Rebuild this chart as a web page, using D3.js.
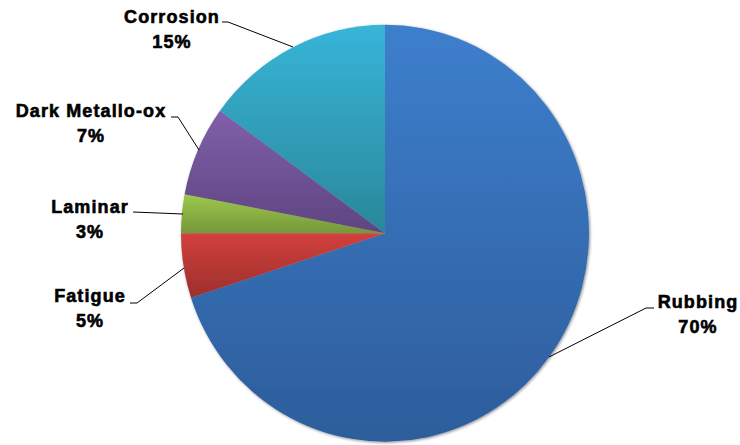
<!DOCTYPE html>
<html>
<head>
<meta charset="utf-8">
<script src="https://cdn.jsdelivr.net/npm/d3@7"></script>
<style>
  html, body { margin: 0; padding: 0; background: #fff; }
  svg { display: block; }
  text { font-family: "Liberation Sans", Arial, sans-serif; font-weight: bold; font-size: 18px; letter-spacing: 1.1px; fill: #000; stroke: #000; stroke-width: 0.6px; }
</style>
</head>
<body>
<svg id="chart" width="740" height="445"></svg>
<script>
const categories = ["Rubbing", "Fatigue", "Laminar", "Dark Metallo-ox", "Corrosion"];
const values = [70, 5, 3, 7, 15];
const topColors = ["#3d7fcd", "#d2403d", "#9ec84c", "#8060aa", "#37b5d9"];
const bottomColors = ["#2d5d9b", "#9c2f2c", "#74973a", "#5e4580", "#2a8799"];

// label anchor positions (text centre x, first line baseline y) and leader points
const labelPos = [
  { x: 698, y: 308, pts: [[654, 308], [646, 308], [549, 357]] },
  { x: 90, y: 302, pts: [[130, 303], [137, 303], [184, 268]] },
  { x: 90, y: 213, pts: [[133, 212], [183, 214]] },
  { x: 91, y: 117, pts: [[171, 117], [178, 117], [199, 150]] },
  { x: 172, y: 23, pts: [[222, 22], [228, 22], [293, 47]] }
];

const svg = d3.select("#chart");
const cx = 385, cy = 233.2, r = 204, yScale = 1.022;

const defs = svg.append("defs");
const filter = defs.append("filter").attr("id", "shadow")
  .attr("x", "-10%").attr("y", "-10%").attr("width", "120%").attr("height", "120%");
filter.append("feGaussianBlur").attr("in", "SourceAlpha").attr("stdDeviation", 1.6).attr("result", "blur");
filter.append("feOffset").attr("in", "blur").attr("dx", 0.5).attr("dy", 1).attr("result", "off");
filter.append("feComponentTransfer").attr("in", "off").attr("result", "soft")
  .append("feFuncA").attr("type", "linear").attr("slope", 0.45);
const merge = filter.append("feMerge");
merge.append("feMergeNode").attr("in", "soft");
merge.append("feMergeNode").attr("in", "SourceGraphic");

categories.forEach((c, i) => {
  const g = defs.append("linearGradient").attr("id", "grad" + i)
    .attr("x1", 0).attr("y1", 0).attr("x2", 0).attr("y2", 1);
  g.append("stop").attr("offset", "0%").attr("stop-color", topColors[i]);
  g.append("stop").attr("offset", "100%").attr("stop-color", bottomColors[i]);
});

const pie = d3.pie().sort(null).value(d => d)(values);
const arc = d3.arc().innerRadius(0).outerRadius(r);

const gPie = svg.append("g").attr("transform", `translate(${cx},${cy}) scale(1,${yScale})`).attr("filter", "url(#shadow)");
gPie.selectAll("path").data(pie).enter().append("path")
  .attr("d", arc)
  .attr("fill", (d, i) => `url(#grad${i})`);

const total = d3.sum(values);
const line = d3.line();
labelPos.forEach((p, i) => {
  svg.append("path").attr("d", line(p.pts)).attr("fill", "none")
    .attr("stroke", "#000").attr("stroke-width", 1);
  const t = svg.append("text").attr("text-anchor", "middle");
  t.append("tspan").attr("x", p.x).attr("y", p.y).text(categories[i]);
  t.append("tspan").attr("x", p.x).attr("y", p.y + 25).text(Math.round(values[i] / total * 100) + "%");
});
</script>
</body>
</html>
